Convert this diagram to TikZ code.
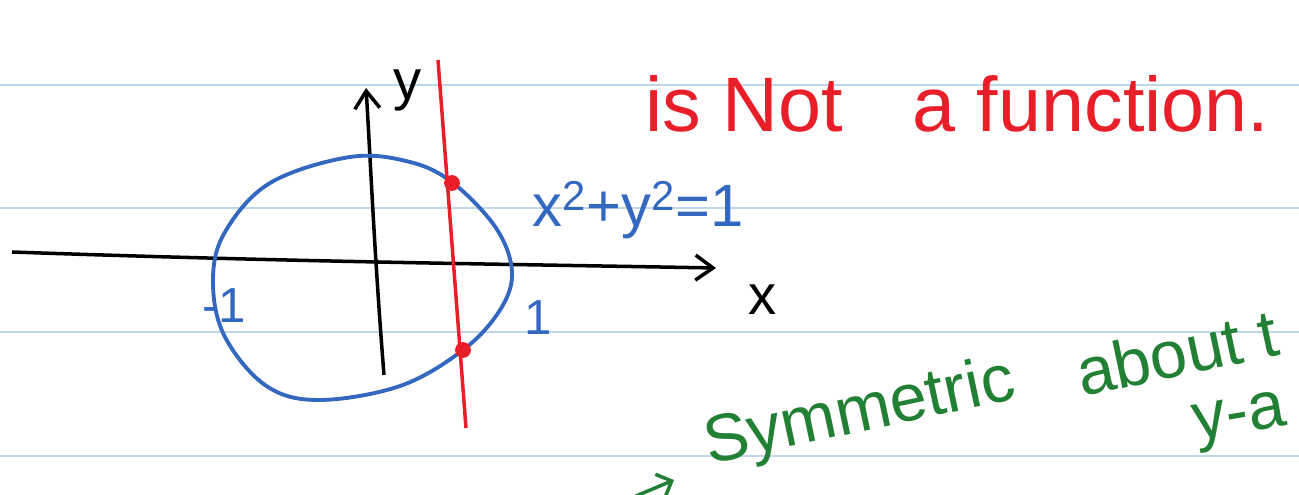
\documentclass[tikz,border=0pt]{standalone}
\usepackage{fontspec}
\setmainfont{Liberation Sans}
\usetikzlibrary{arrows.meta,positioning,calc}
\definecolor{ruleblue}{RGB}{190,216,234}
\definecolor{penred}{RGB}{232,30,40}
\definecolor{penblue}{RGB}{52,104,192}
\definecolor{pengreen}{RGB}{34,128,52}
\tikzset{
  rule/.style={draw=ruleblue, line width=1.2pt},
  axis/.style={-{Straight Barb[length=3.5mm,width=5mm]}, line width=2pt, draw=black},
  curve/.style={draw=penblue, line width=2.2pt},
  vline/.style={draw=penred, line width=2pt},
  hit/.style={circle, fill=penred, inner sep=0pt, minimum size=9pt},
  note/.style={font=\fontsize{44}{50}\selectfont, text=penred, inner sep=0pt},
  tick/.style={font=\fontsize{28}{32}\selectfont, text=penblue, inner sep=0pt},
  green/.style={font=\fontsize{38}{44}\selectfont, text=pengreen, inner sep=0pt, rotate=12},
}
\begin{document}
\begin{tikzpicture}[x=0.02cm, y=-0.02cm]
    \useasboundingbox (0,0) rectangle (1299,494);
    \clip (0,0) rectangle (1299,494);
    % ruled paper
    \foreach \r in {85,208,332,456}
      \draw[rule] (0,\r) -- (1299,\r);
    % axes
    \coordinate (xl) at (12,252);
    \coordinate (xr) at (716,268);
    \coordinate (yb) at (384,375);
    \coordinate (yt) at (366,88);
    \draw[axis] (xl) .. controls (300,262) and (500,264) .. (xr);
    \draw[axis] (yb) .. controls (374,250) and (370,150) .. (yt);
    \node[font=\fontsize{32}{36}\selectfont, inner sep=0pt] (xlab) at (763,300) {x};
    \node[font=\fontsize{32}{36}\selectfont, inner sep=0pt] (ylab) at (408,90) {y};
    % the circle
    \draw[curve] plot[smooth cycle, tension=0.6] coordinates {
      (350,157) (270,183) (225,232) (213,280) (224,335) (265,385)
      (318,400) (400,386) (463,350) (500,310) (512,272) (496,228)
      (453,183) (410,162)};
    \node[tick] (mone) at (224,306) {-1};
    \node[tick] (one) at (538,318) {1};
    \node[font=\fontsize{34}{40}\selectfont, text=penblue, inner sep=0pt, anchor=west] (eq) at (532,210) {x\textsuperscript{2}+y\textsuperscript{2}=1};
    % vertical line test
    \coordinate (vt) at (438,60);
    \coordinate (vb) at (466,428);
    \draw[vline] (vt) -- (vb);
    \node[hit] (p1) at (452,183) {};
    \node[hit] (p2) at (463,350) {};
    \node[note, anchor=west] (nf) at (645,104) {is Not\hspace{0.9em}a function.};
    % symmetry note
    \node[green, anchor=south west] (sym) at (712,478) {Symmetric};
    \node[green, anchor=south west] (abt) at (1082,398) {about t};
    \node[green, anchor=west, rotate=-2] (yax) at (1194,430) {y-a};
    \coordinate (ga) at (636,496);
    \coordinate (gb) at (674,480);
    \draw[-{Straight Barb[length=2.5mm]}, draw=pengreen, line width=2pt] (ga) -- (gb);
  \end{tikzpicture}
\end{document}
